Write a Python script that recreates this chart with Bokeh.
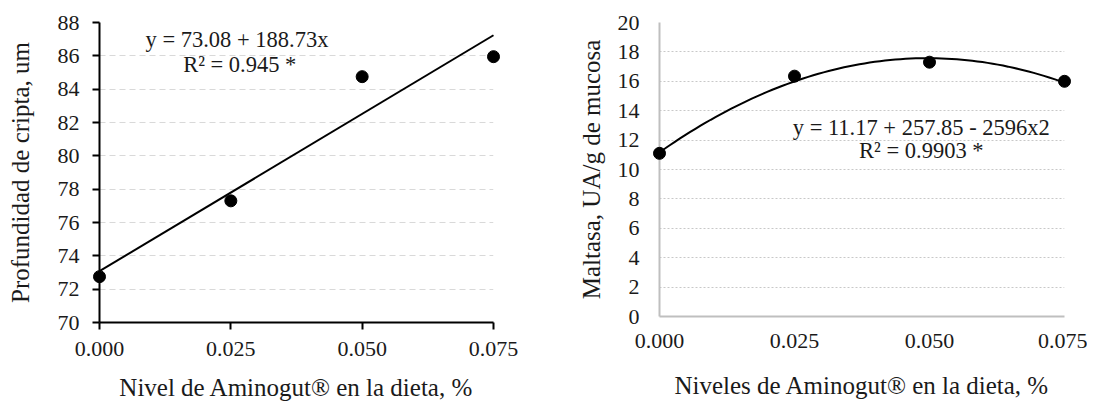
import numpy as np
from bokeh.plotting import figure
from bokeh.layouts import row
from bokeh.models import Label, FixedTicker
from bokeh.embed import file_html
from bokeh.resources import INLINE

# ---------------- data ----------------
levels = [0.0, 0.025, 0.05, 0.075]
x_tick_labels = ["0.000", "0.025", "0.050", "0.075"]

cripta = [72.75, 77.3, 84.75, 85.95]
cripta_fit = [73.08, 188.73]            # y = a + b x (as printed on chart)
cripta_ticks = [70, 72, 74, 76, 78, 80, 82, 84, 86, 88]
cripta_eq = ["y =  73.08 + 188.73x", "R\u00b2 = 0.945 *"]

maltasa = [11.1, 16.35, 17.3, 16.0]
maltasa_fit = [11.17, 257.85, -2596.0]  # y = a + b x + c x^2 (as printed on chart)
maltasa_ticks = [0, 2, 4, 6, 8, 10, 12, 14, 16, 18, 20]
maltasa_eq = ["y = 11.17 + 257.85  - 2596x2", "R\u00b2 = 0.9903  *"]

left_xlabel = "Nivel de Aminogut\u00ae en la dieta, %"
left_ylabel = "Profundidad de cripta, um"
right_xlabel = "Niveles de Aminogut\u00ae en la dieta, %"
right_ylabel = "Maltasa, UA/g de mucosa"

FONT = "Liberation Serif"


def style_common(p, xlabel, ylabel, yticks):
    p.outline_line_color = None
    p.xgrid.visible = False
    p.xaxis.ticker = FixedTicker(ticks=levels)
    p.xaxis.major_label_overrides = {v: s for v, s in zip(levels, x_tick_labels)}
    p.yaxis.ticker = FixedTicker(ticks=yticks)
    p.ygrid.ticker = FixedTicker(ticks=yticks)
    for ax in (p.xaxis[0], p.yaxis[0]):
        ax.major_label_text_font = FONT
        ax.major_label_text_font_size = "22px"
        ax.major_label_text_color = "#1a1a1a"
        ax.axis_label_text_font = FONT
        ax.axis_label_text_font_size = "25px"
        ax.axis_label_text_font_style = "normal"
        ax.axis_label_text_color = "#1a1a1a"
        ax.minor_tick_line_color = None
    p.xaxis.axis_label = xlabel
    p.yaxis.axis_label = ylabel


# ---------------- left chart ----------------
p1 = figure(frame_width=394, frame_height=300,
            x_range=(0, 0.075), y_range=(70, 88),
            output_backend="svg", toolbar_location=None,
            min_border_left=99, min_border_right=34,
            min_border_top=22, min_border_bottom=83)
style_common(p1, left_xlabel, left_ylabel, cripta_ticks)
for ax in (p1.xaxis[0], p1.yaxis[0]):
    ax.axis_line_color = "black"
    ax.axis_line_width = 2
    ax.major_tick_line_color = "black"
    ax.major_tick_line_width = 2
    ax.major_tick_in = 0
    ax.major_tick_out = 7
p1.xaxis.major_label_standoff = 12
p1.xaxis.axis_label_standoff = 15
p1.yaxis.major_label_standoff = 13
p1.yaxis.axis_label_standoff = 21
p1.ygrid.grid_line_color = "#d9d9d9"
p1.ygrid.grid_line_dash = "6 4"
p1.ygrid.grid_line_width = 1

fx = [levels[0], levels[-1]]
fy = [cripta_fit[0] + cripta_fit[1] * v for v in fx]
r = p1.line(fx, fy, line_color="black", line_width=2)
r.level = "overlay"
s = p1.scatter(levels, cripta, size=12, color="black")
s.level = "overlay"

p1.add_layout(Label(x=0.0267, y=86.98, text=cripta_eq[0], text_font=FONT,
                    text_font_size="22.5px", text_align="center",
                    text_baseline="middle", text_color="#1a1a1a"))
p1.add_layout(Label(x=0.0267, y=85.48, text=cripta_eq[1], text_font=FONT,
                    text_font_size="22.5px", text_align="center",
                    text_baseline="middle", text_color="#1a1a1a"))

# ---------------- right chart ----------------
p2 = figure(frame_width=405, frame_height=294,
            x_range=(0, 0.075), y_range=(0, 20),
            output_backend="svg", toolbar_location=None,
            min_border_left=132, min_border_right=23,
            min_border_top=22, min_border_bottom=88)
style_common(p2, right_xlabel, right_ylabel, maltasa_ticks)
for ax in (p2.xaxis[0], p2.yaxis[0]):
    ax.axis_line_color = "#bfbfbf"
    ax.axis_line_width = 2
    ax.major_tick_line_color = None
    ax.major_tick_in = 0
    ax.major_tick_out = 0
p2.xaxis.major_label_standoff = 17
p2.xaxis.axis_label_standoff = 21
p2.yaxis.major_label_standoff = 20
p2.yaxis.axis_label_standoff = 10
p2.ygrid.grid_line_color = "#c8c8c8"
p2.ygrid.grid_line_dash = "2 2"
p2.ygrid.grid_line_width = 1

cx = np.linspace(levels[0], levels[-1], 80)
cy = maltasa_fit[0] + maltasa_fit[1] * cx + maltasa_fit[2] * cx ** 2
r2 = p2.line(cx, cy, line_color="black", line_width=2)
r2.level = "overlay"
s2 = p2.scatter(levels, maltasa, size=12, color="black")
s2.level = "overlay"

p2.add_layout(Label(x=0.049, y=12.86, text=maltasa_eq[0], text_font=FONT,
                    text_font_size="22.5px", text_align="center",
                    text_baseline="middle", text_color="#1a1a1a"))
p2.add_layout(Label(x=0.049, y=11.29, text=maltasa_eq[1], text_font=FONT,
                    text_font_size="22.5px", text_align="center",
                    text_baseline="middle", text_color="#1a1a1a"))

layout = row(p1, p2, spacing=0)
open("out.html", "w").write(file_html(layout, INLINE))
